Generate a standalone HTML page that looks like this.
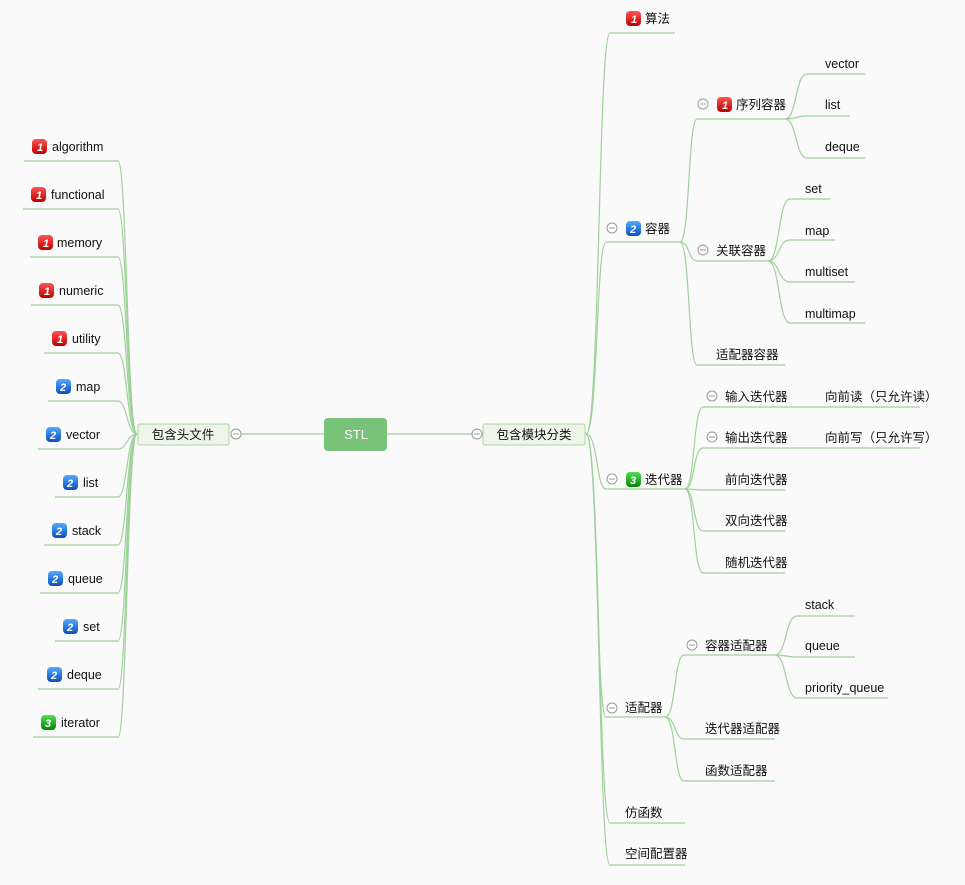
<!DOCTYPE html>
<html><head><meta charset="utf-8"><style>
body{margin:0;background:#fafafa;}
svg text{font-family:"Liberation Sans","Noto Sans CJK SC",sans-serif;font-size:12.5px;fill:#111;}
.l{stroke:#9fd29a;stroke-width:1.2;fill:none;}
.m{fill:#fff;stroke:#999;stroke-width:1;}
.n{font-style:italic;font-weight:bold;fill:#fff !important;font-size:11px !important;}
</style></head><body>
<svg width="965" height="880" xmlns="http://www.w3.org/2000/svg">
<defs>
<linearGradient id="r" x1="0" y1="0" x2="0" y2="1"><stop offset="0" stop-color="#f55"/><stop offset="1" stop-color="#b00"/></linearGradient>
<linearGradient id="b" x1="0" y1="0" x2="0" y2="1"><stop offset="0" stop-color="#5af"/><stop offset="1" stop-color="#0650c0"/></linearGradient>
<linearGradient id="g" x1="0" y1="0" x2="0" y2="1"><stop offset="0" stop-color="#5d5"/><stop offset="1" stop-color="#080"/></linearGradient>
<g id="ir"><rect x="0" y="0" width="15" height="15" rx="4" fill="url(#r)"/><text x="5" y="12" class="n">1</text></g>
<g id="ib"><rect x="0" y="0" width="15" height="15" rx="4" fill="url(#b)"/><text x="4" y="12" class="n">2</text></g>
<g id="ig"><rect x="0" y="0" width="15" height="15" rx="4" fill="url(#g)"/><text x="4" y="12" class="n">3</text></g>
<g id="mi"><circle cx="0" cy="0" r="5" class="m"/><line x1="-3" y1="0" x2="3" y2="0" stroke="#999"/></g>
</defs>

<!-- center -->
<line x1="236" y1="434" x2="324" y2="434" class="l"/>
<line x1="387" y1="434" x2="477" y2="434" class="l"/>
<rect x="324" y="418" width="63" height="33" rx="4" fill="#78c27a"/>
<text x="356" y="439" text-anchor="middle" style="fill:#fff;font-size:13px">STL</text>

<!-- left -->
<g class="l">
<path d="M137 434 C127 434 127 161 118 161 H24"/>
<path d="M137 434 C127 434 127 209 118 209 H23"/>
<path d="M137 434 C127 434 127 257 118 257 H30"/>
<path d="M137 434 C127 434 127 305 118 305 H31"/>
<path d="M137 434 C127 434 127 353 118 353 H44"/>
<path d="M137 434 C127 434 127 401 118 401 H48"/>
<path d="M137 434 C127 434 127 449 118 449 H38"/>
<path d="M137 434 C127 434 127 497 118 497 H55"/>
<path d="M137 434 C127 434 127 545 118 545 H44"/>
<path d="M137 434 C127 434 127 593 118 593 H40"/>
<path d="M137 434 C127 434 127 641 118 641 H55"/>
<path d="M137 434 C127 434 127 689 118 689 H38"/>
<path d="M137 434 C127 434 127 737 118 737 H33"/>
</g>
<rect x="138" y="424" width="91" height="21" rx="2" fill="#eef6ea" stroke="#a8d5a0"/>
<text x="183" y="439" text-anchor="middle">包含头文件</text>
<use href="#mi" x="236" y="434"/>
<use href="#ir" x="32" y="139"/><text x="52" y="151">algorithm</text>
<use href="#ir" x="31" y="187"/><text x="51" y="199">functional</text>
<use href="#ir" x="38" y="235"/><text x="57" y="247">memory</text>
<use href="#ir" x="39" y="283"/><text x="59" y="295">numeric</text>
<use href="#ir" x="52" y="331"/><text x="72" y="343">utility</text>
<use href="#ib" x="56" y="379"/><text x="76" y="391">map</text>
<use href="#ib" x="46" y="427"/><text x="66" y="439">vector</text>
<use href="#ib" x="63" y="475"/><text x="83" y="487">list</text>
<use href="#ib" x="52" y="523"/><text x="72" y="535">stack</text>
<use href="#ib" x="48" y="571"/><text x="68" y="583">queue</text>
<use href="#ib" x="63" y="619"/><text x="83" y="631">set</text>
<use href="#ib" x="47" y="667"/><text x="67" y="679">deque</text>
<use href="#ig" x="41" y="715"/><text x="61" y="727">iterator</text>

<!-- right main -->
<g class="l">
<path d="M586 434 C600 434 598 33 610 33 H675"/>
<path d="M586 434 C598 434 596 242 606 242 H680"/>
<path d="M586 434 C598 434 596 489 606 489 H685"/>
<path d="M586 434 C598 434 596 717 606 717 H665"/>
<path d="M586 434 C600 434 598 823 610 823 H685"/>
<path d="M586 434 C600 434 598 865 610 865 H685"/>
<!-- 容器 -->
<path d="M680 242 C690 242 688 119 697 119 H785"/>
<path d="M680 242 C690 242 688 261 697 261 H768"/>
<path d="M680 242 C690 242 688 365 697 365 H785"/>
<path d="M785 119 C797 119 795 74 807 74 H865"/>
<path d="M785 119 C797 119 795 116 807 116 H850"/>
<path d="M785 119 C797 119 795 158 807 158 H865"/>
<path d="M768 261 C780 261 778 199 790 199 H830"/>
<path d="M768 261 C780 261 778 240 790 240 H835"/>
<path d="M768 261 C780 261 778 282 790 282 H855"/>
<path d="M768 261 C780 261 778 323 790 323 H865"/>
<!-- 迭代器 -->
<path d="M685 489 C695 489 693 407 703 407 H920"/>
<path d="M685 489 C695 489 693 448 703 448 H920"/>
<path d="M685 489 C695 489 693 490 703 490 H785"/>
<path d="M685 489 C695 489 693 531 703 531 H785"/>
<path d="M685 489 C695 489 693 573 703 573 H785"/>
<!-- 适配器 -->
<path d="M665 717 C676 717 674 655 684 655 H775"/>
<path d="M665 717 C676 717 674 739 684 739 H775"/>
<path d="M665 717 C676 717 674 781 684 781 H775"/>
<path d="M775 655 C787 655 785 616 797 616 H855"/>
<path d="M775 655 C787 655 785 657 797 657 H855"/>
<path d="M775 655 C787 655 785 698 797 698 H888"/>
</g>
<rect x="483" y="424" width="102" height="21" rx="2" fill="#eef6ea" stroke="#a8d5a0"/>
<text x="534" y="439" text-anchor="middle">包含模块分类</text>
<use href="#mi" x="477" y="434"/>

<use href="#ir" x="626" y="11"/><text x="645" y="23">算法</text>
<use href="#mi" x="612" y="228"/><use href="#ib" x="626" y="221"/><text x="645" y="233">容器</text>
<use href="#mi" x="612" y="479"/><use href="#ig" x="626" y="472"/><text x="645" y="484">迭代器</text>
<use href="#mi" x="612" y="708"/><text x="625" y="712">适配器</text>
<text x="625" y="817">仿函数</text>
<text x="625" y="858">空间配置器</text>

<use href="#mi" x="703" y="104"/><use href="#ir" x="717" y="97"/><text x="736" y="109">序列容器</text>
<use href="#mi" x="703" y="250"/><text x="716" y="255">关联容器</text>
<text x="716" y="359">适配器容器</text>
<text x="825" y="68">vector</text>
<text x="825" y="109">list</text>
<text x="825" y="151">deque</text>
<text x="805" y="193">set</text>
<text x="805" y="235">map</text>
<text x="805" y="276">multiset</text>
<text x="805" y="318">multimap</text>

<use href="#mi" x="712" y="396"/><text x="725" y="401">输入迭代器</text>
<use href="#mi" x="712" y="437"/><text x="725" y="442">输出迭代器</text>
<text x="725" y="484">前向迭代器</text>
<text x="725" y="525">双向迭代器</text>
<text x="725" y="567">随机迭代器</text>
<text x="825" y="401">向前读（只允许读）</text>
<text x="825" y="442">向前写（只允许写）</text>

<use href="#mi" x="692" y="645"/><text x="705" y="650">容器适配器</text>
<text x="705" y="733">迭代器适配器</text>
<text x="705" y="775">函数适配器</text>
<text x="805" y="609">stack</text>
<text x="805" y="650">queue</text>
<text x="805" y="692">priority_queue</text>
</svg>
</body></html>
